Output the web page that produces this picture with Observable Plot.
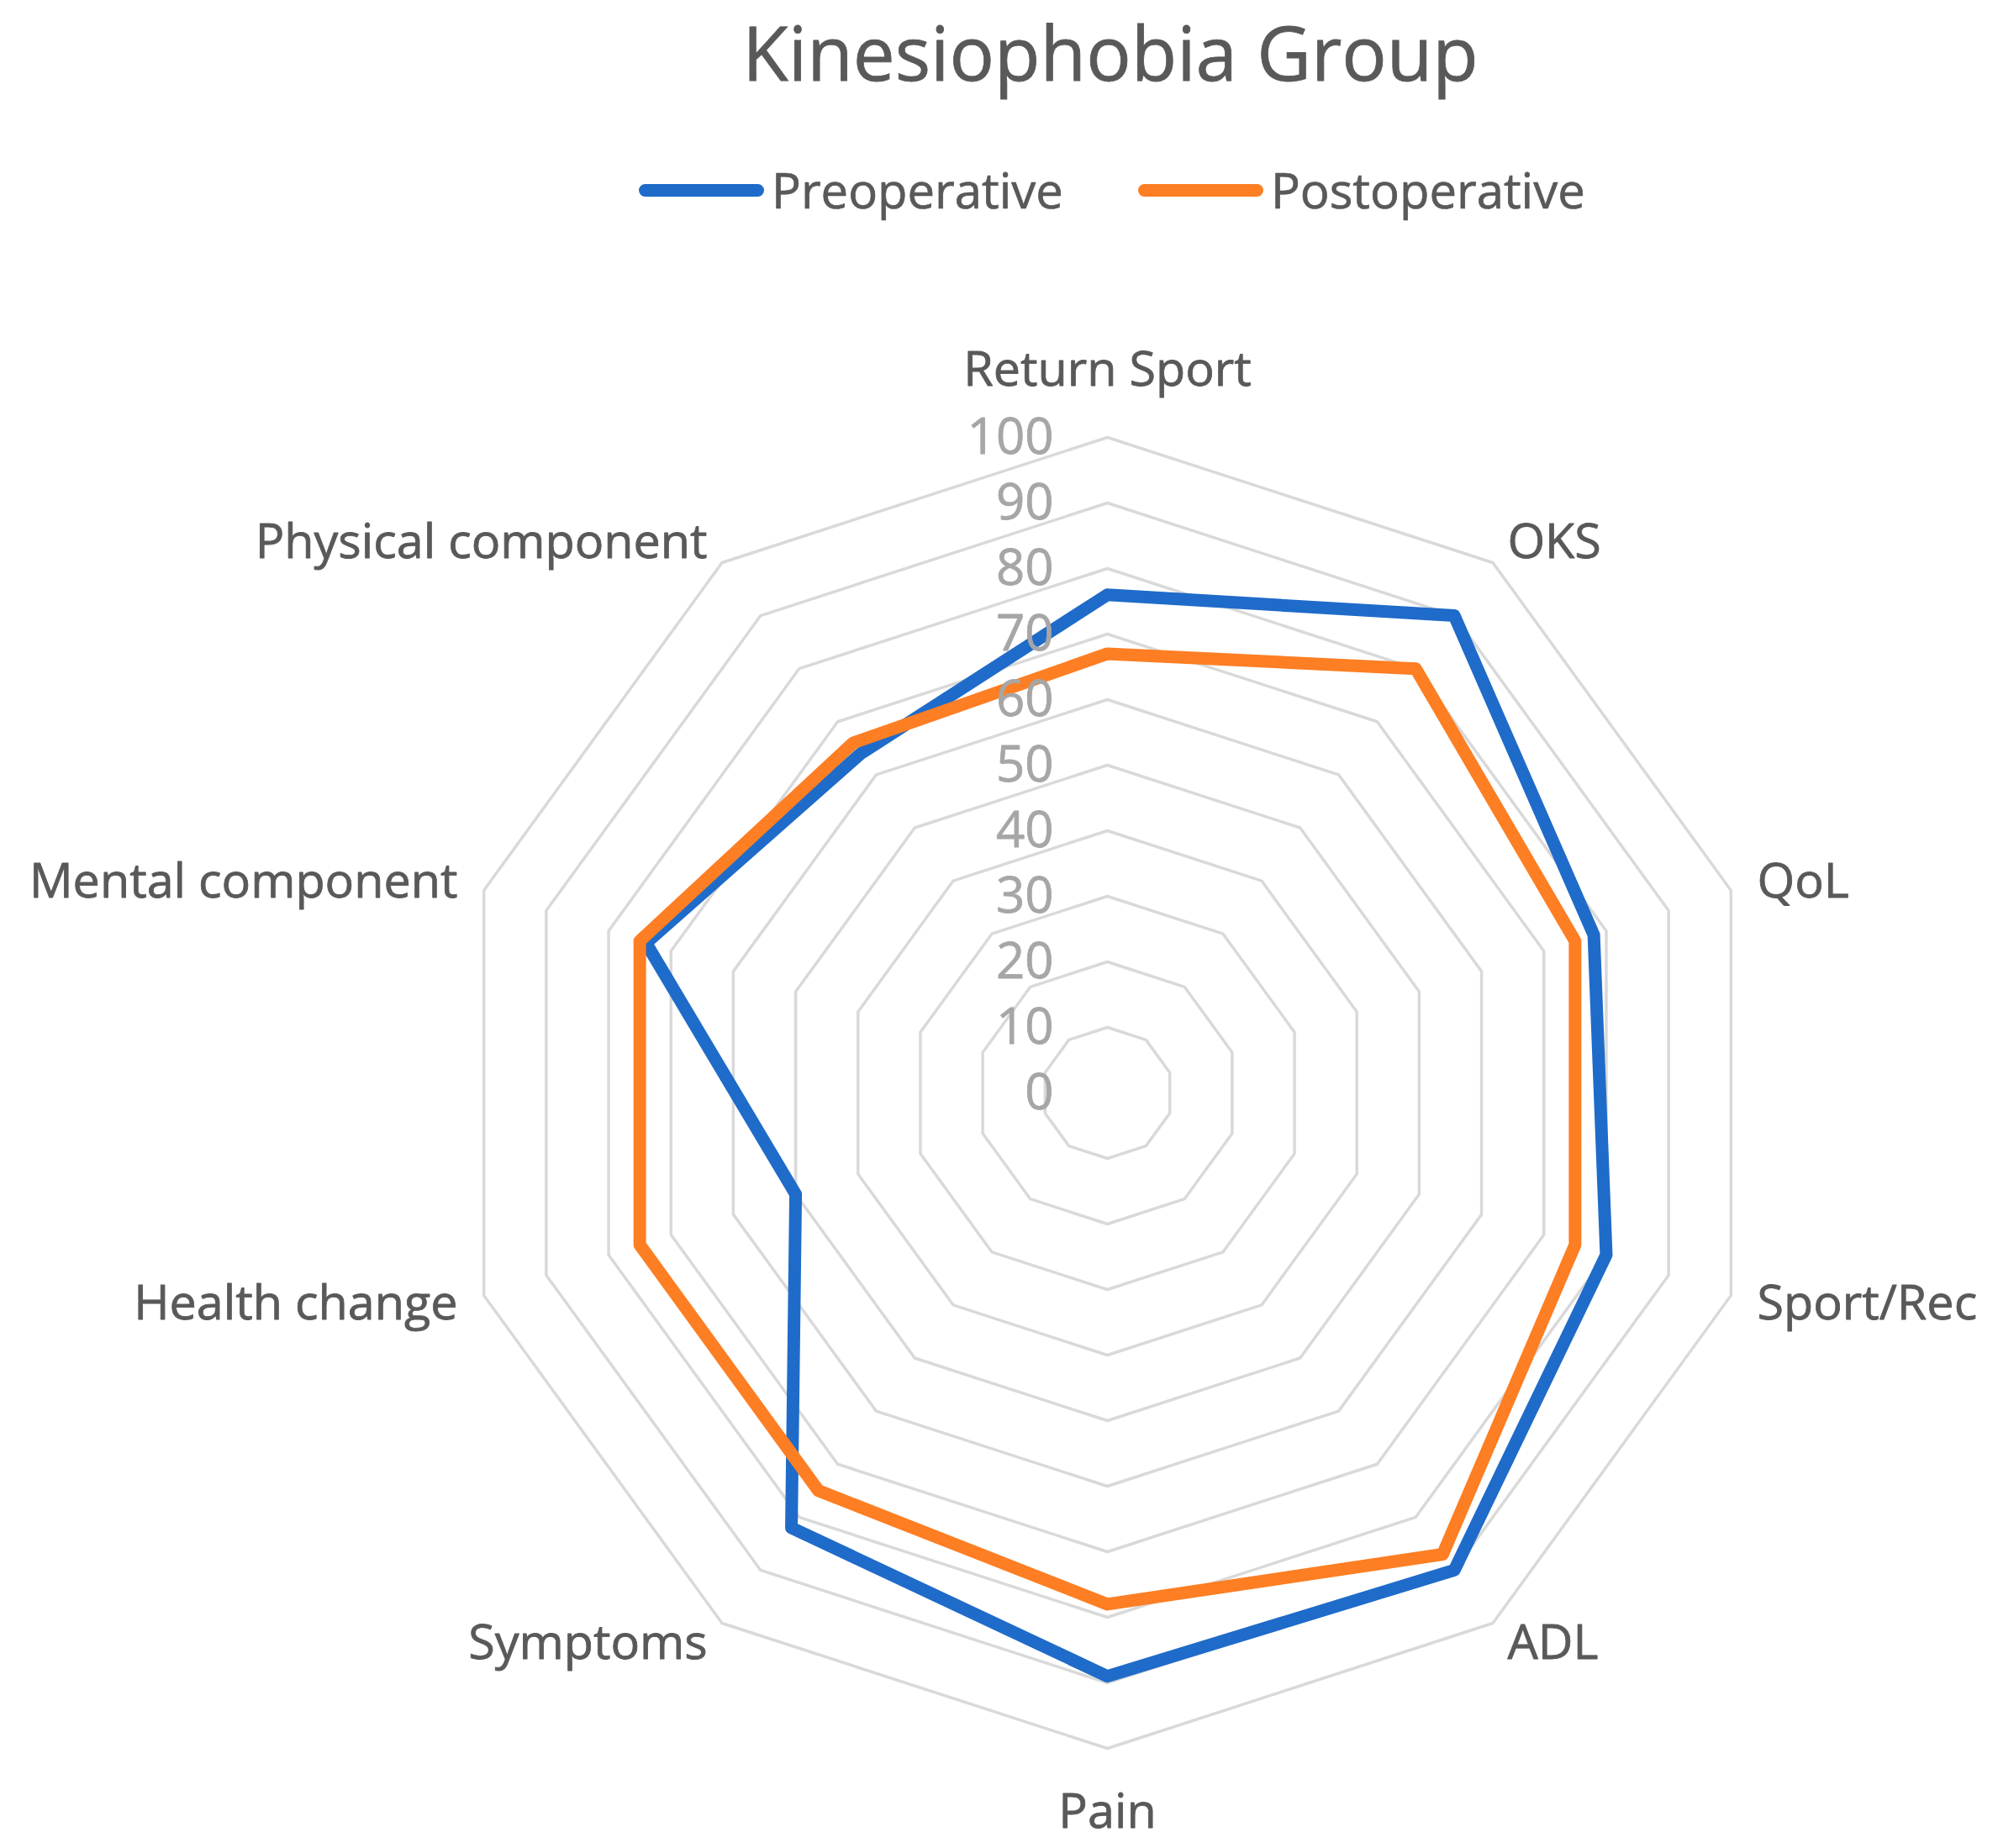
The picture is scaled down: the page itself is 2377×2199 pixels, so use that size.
<!DOCTYPE html>
<html>
<head>
<meta charset="utf-8">
<script src="https://cdn.jsdelivr.net/npm/d3@7"></script>
<script src="https://cdn.jsdelivr.net/npm/@observablehq/plot@0.6"></script>
<style>
  html, body { margin: 0; padding: 0; background: #fff; }
  body { font-family: "Open Sans", sans-serif; width: 2377px; }
  #header { position: relative; width: 2377px; height: 330px; }
  #title {
    position: absolute; left: 1321px; top: 1px; transform: translateX(-50%);
    font-size: 89px; line-height: 122px; color: #595959; white-space: nowrap;
    -webkit-text-stroke: 0.8px #595959;
  }
  #legend {
    position: absolute; left: 760px; top: 186px; display: flex; align-items: center;
    font-size: 58px; line-height: 80px; color: #595959; white-space: nowrap;
    -webkit-text-stroke: 0.7px #595959;
  }
  .item { display: flex; align-items: center; }
  .item + .item { margin-left: 89px; }
  .sw { width: 149px; height: 15px; border-radius: 8px; margin-right: 9px; }
  #chart svg { display: block; }
</style>
</head>
<body>
<div id="header">
  <div id="title">Kinesiophobia Group</div>
  <div id="legend"></div>
</div>
<div id="chart"></div>
<script>
// ---- data ----
const categories = ["Return Sport", "OKS", "QoL", "Sport/Rec", "ADL", "Pain", "Symptoms", "Health change", "Mental component", "Physical component"];
const preoperative = [76, 90, 78, 80, 90, 89, 82, 50, 74, 64];
const postoperative = [67, 80, 75, 75, 87, 78, 75, 75, 75, 66];
const seriesNames = ["Preoperative", "Postoperative"];
const seriesColors = ["#1F6BC9", "#FD7E23"];
const ticks = [0, 10, 20, 30, 40, 50, 60, 70, 80, 90, 100];

// ---- legend ----
const legend = document.getElementById("legend");
seriesNames.forEach((name, k) => {
  const it = document.createElement("div");
  it.className = "item";
  const sw = document.createElement("div");
  sw.className = "sw";
  sw.style.background = seriesColors[k];
  const tx = document.createElement("span");
  tx.textContent = name;
  it.appendChild(sw); it.appendChild(tx);
  legend.appendChild(it);
});

// ---- geometry helpers ----
const n = categories.length;
const ang = i => 2 * Math.PI * i / n;
const px = (v, i) => v * Math.sin(ang(i));
const py = (v, i) => v * Math.cos(ang(i));

const ringData = ticks.filter(t => t > 0).flatMap(t =>
  d3.range(n + 1).map(j => ({ ring: t, x: px(t, j % n), y: py(t, j % n) })));

const seriesValues = [preoperative, postoperative];
const lineData = seriesNames.flatMap((name, k) =>
  d3.range(n + 1).map(j => ({ series: name, x: px(seriesValues[k][j % n], j % n), y: py(seriesValues[k][j % n], j % n) })));

const labelData = categories.map((c, i) => {
  const s = Math.sin(ang(i));
  const cth = Math.cos(ang(i));
  const side = Math.abs(s) < 1e-6 ? "middle" : (s > 0 ? "start" : "end");
  const r = side === "middle" ? (cth > 0 ? 110.3 : 109.8) : (Math.abs(s) > 0.9 ? 104.2 : 103.8);
  return { name: c, side, x: px(r, i), y: py(r, i) };
});

const textOpts = { fontFamily: "Open Sans, sans-serif" };

const chart = Plot.plot({
  width: 2377,
  height: 1869,
  marginLeft: 537,
  marginRight: 280,
  marginTop: 190,
  marginBottom: 119,
  x: { domain: [-100, 100], axis: null },
  y: { domain: [-100, 100], axis: null },
  color: { domain: seriesNames, range: seriesColors },
  style: { fontFamily: "Open Sans, sans-serif", background: "#fff", overflow: "visible" },
  marks: [
    Plot.line(ringData, { x: "x", y: "y", z: "ring", stroke: "#D9D9D9", strokeWidth: 3.5 }),
    Plot.line(lineData, { x: "x", y: "y", z: "series", stroke: "series", strokeWidth: 15, strokeLinejoin: "round", strokeLinecap: "round" }),
    Plot.text(ticks, { x: () => 0, y: d => d, text: d => String(d), dx: -64, textAnchor: "end", lineAnchor: "middle", fill: "#A6A6A6", stroke: "#A6A6A6", strokeWidth: 0.8, fontSize: 60, ...textOpts }),
    ...["start", "middle", "end"].map(side =>
      Plot.text(labelData.filter(d => d.side === side), { x: "x", y: "y", text: "name", textAnchor: side, lineAnchor: "middle", fill: "#595959", stroke: "#595959", strokeWidth: 0.8, fontSize: 57.5, ...textOpts }))
  ]
});
document.getElementById("chart").appendChild(chart);
</script>
</body>
</html>
